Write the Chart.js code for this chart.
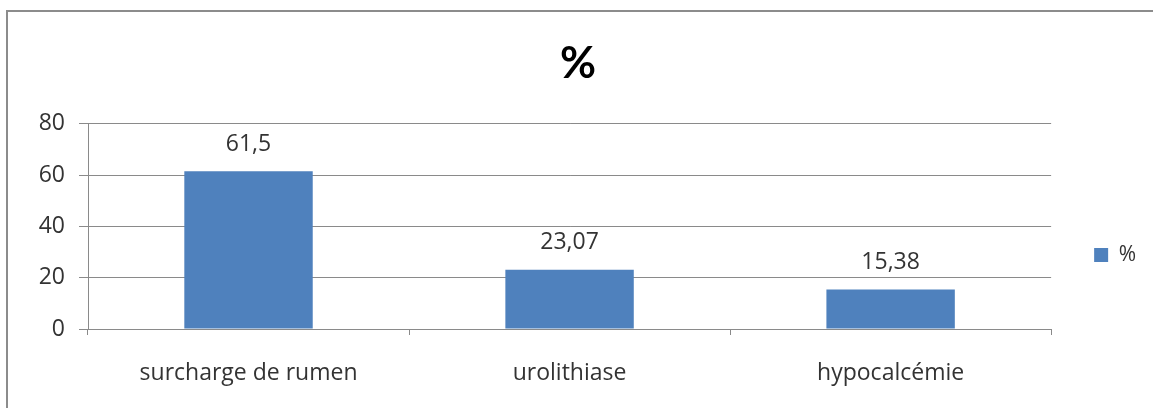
<!DOCTYPE html>
<html>
<head>
<meta charset="utf-8">
<script src="https://cdn.jsdelivr.net/npm/chart.js@4"></script>
<style>
  html, body { margin: 0; padding: 0; background: #fff; overflow: hidden; }
  #frame { position: absolute; left: 6px; top: 10px; width: 1200px; height: 450px; border: 2px solid #8c8c8c; }
  #c { position: absolute; left: 0; top: 0; }
</style>
</head>
<body>
<div id="frame"></div>
<canvas id="c" width="1153" height="408"></canvas>
<script>
// chart data
const categories = ['surcharge de rumen', 'urolithiase', 'hypocalcémie'];
const percentValues = [61.5, 23.07, 15.38];
const valueLabels = ['61,5', '23,07', '15,38'];
const yTicks = [0, 20, 40, 60, 80];

const textColor = '#333333';
const gridColor = '#8a8a8a';
const barColor = '#4f81bd';
const labelFont = { family: 'Open Sans', size: 23 };

// writes the value over each bar
const barValues = {
  id: 'barValues',
  afterDatasetsDraw(chart) {
    const ctx = chart.ctx;
    const meta = chart.getDatasetMeta(0);
    ctx.save();
    ctx.font = '23px "Open Sans"';
    ctx.fillStyle = textColor;
    ctx.textAlign = 'center';
    ctx.textBaseline = 'middle';
    meta.data.forEach((bar, i) => {
      ctx.fillText(valueLabels[i], bar.x, bar.y - 27);
    });
    ctx.restore();
  }
};

const chart = new Chart(document.getElementById('c'), {
  type: 'bar',
  data: {
    labels: categories,
    datasets: [{
      label: '%',
      data: percentValues,
      backgroundColor: barColor,
      barPercentage: 0.4,
      categoryPercentage: 1
    }]
  },
  options: {
    responsive: false,
    animation: false,
    layout: { padding: { left: 10, right: 7, top: 0, bottom: 22 } },
    plugins: {
      title: {
        display: true,
        text: '%',
        color: '#000',
        font: { family: 'Lato', size: 44, weight: 'bold' },
        padding: { top: 37, bottom: 34 }
      },
      legend: {
        position: 'right',
        fullSize: false,
        title: { display: true, text: ' ', font: { size: 20 }, padding: { top: 33, bottom: 0 } },
        labels: {
          color: textColor,
          font: { family: 'Open Sans', size: 21 },
          boxWidth: 14,
          boxHeight: 14,
          padding: 43
        }
      },
      tooltip: { enabled: false }
    },
    scales: {
      x: {
        afterFit: s => { s.height = 57; },
        border: { display: true, color: gridColor },
        grid: { display: true, drawOnChartArea: false, color: gridColor, tickLength: 6 },
        ticks: { color: textColor, font: labelFont, padding: 25 }
      },
      y: {
        min: 0,
        max: 80,
        afterFit: s => { s.width = 78; },
        afterBuildTicks: s => { s.ticks = yTicks.map(v => ({ value: v })); },
        border: { display: true, color: gridColor },
        grid: { color: gridColor, tickLength: 9 },
        ticks: { color: textColor, font: labelFont, padding: 14 }
      }
    }
  },
  plugins: [barValues]
});
</script>
</body>
</html>
